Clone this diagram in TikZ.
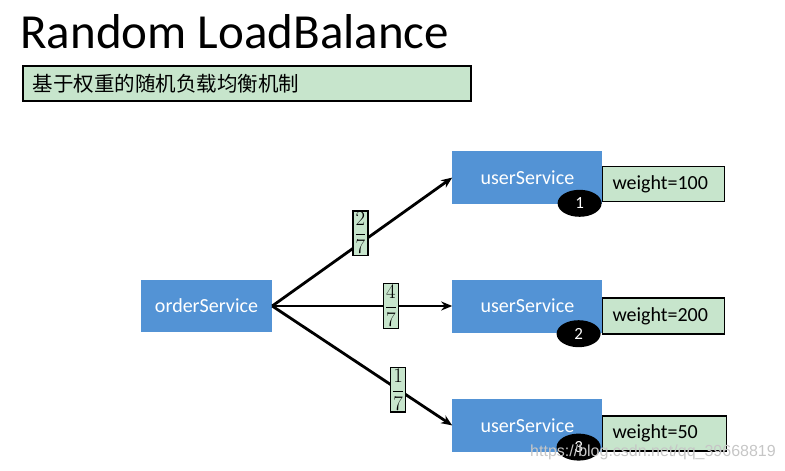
\documentclass[tikz,border=0pt]{standalone}
\usepackage[no-math]{fontspec}
\usepackage{amsmath}
\setmainfont{Carlito}
\newfontfamily\cjkfont{Noto Sans CJK SC}
\newfontfamily\markfont{Liberation Sans}
\usetikzlibrary{arrows.meta,positioning,shapes.geometric}
\definecolor{svcblue}{RGB}{83,147,213}
\definecolor{notegreen}{RGB}{199,229,204}

\begin{document}
\begin{tikzpicture}[x=1pt,y=-1pt,node distance=180pt,
    svc/.style={fill=svcblue,text=white,minimum width=150pt,minimum height=53pt,inner sep=0pt,font=\fontsize{20}{24}\selectfont},
    note/.style={draw=black,line width=1.8pt,fill=notegreen,inner ysep=0pt,inner xsep=10pt,align=left,font=\fontsize{20}{24}\selectfont},
    fracbox/.style={draw=black,line width=1.5pt,fill=notegreen,inner sep=1.5pt,font=\fontsize{22}{26}\selectfont},
    badge/.style={ellipse,fill=black,text=white,minimum width=44pt,minimum height=27pt,inner sep=0pt,font=\fontsize{17}{20}\selectfont},
    link/.style={-{Stealth[length=11pt,width=9pt]},line width=2.8pt}]
    \useasboundingbox (0,0) rectangle (785,471);

    \node[anchor=base west,inner sep=0pt,font=\fontsize{49}{54}\selectfont] (title) at (20,48) {Random LoadBalance};
    \node[note,anchor=north west,minimum height=35pt,text width=428pt] (sub) at (22,65) {\cjkfont\fontsize{20.5}{24}\selectfont 基于权重的随机负载均衡机制};

    \node[svc,minimum width=131pt,minimum height=52pt] (order) at (206.5,306) {orderService};
    \node[svc]           (u2) [right=of order]    {userService};
    \node[svc]           (u1) [above=75pt of u2]  {userService};
    \node[svc]           (u3) [below=66pt of u2]  {userService};

    % numbered badges under the service boxes
    \node[badge] (b1) at ([xshift=-23pt,yshift=1pt]u1.south east) {1};
    \node[badge] (b2) at ([xshift=-24pt,yshift=-1pt]u2.south east) {2};
    \node[badge] (b3) at ([xshift=-24pt,yshift=5pt]u3.south east) {3};

    \node[note,anchor=south west,text width=102pt,minimum height=35pt] (w1) at ([xshift=-1pt,yshift=2pt]u1.south east) {weight=100};
    \node[note,anchor=south west,text width=102pt,minimum height=36pt] (w2) at ([xshift=-1pt,yshift=-2pt]u2.south east) {weight=200};
    \node[note,anchor=south west,text width=104pt,minimum height=35pt] (w3) at ([xshift=-1pt]u3.south east) {weight=50};

    \draw[link] (order.east) -- node[fracbox,pos=0.49,yshift=10pt] {$\dfrac{2}{7}$} (u1.west);
    \draw[link] (order.east) -- node[fracbox,pos=0.66] {$\dfrac{4}{7}$} (u2.west);
    \draw[link] (order.east) -- node[fracbox,pos=0.70] {$\dfrac{1}{7}$} (u3.west);

    \node[text=gray!45,font=\markfont\fontsize{16}{18}\selectfont] (mark) at (653,452) {https://blog.csdn.net/qq\_39668819};
\end{tikzpicture}
\end{document}
